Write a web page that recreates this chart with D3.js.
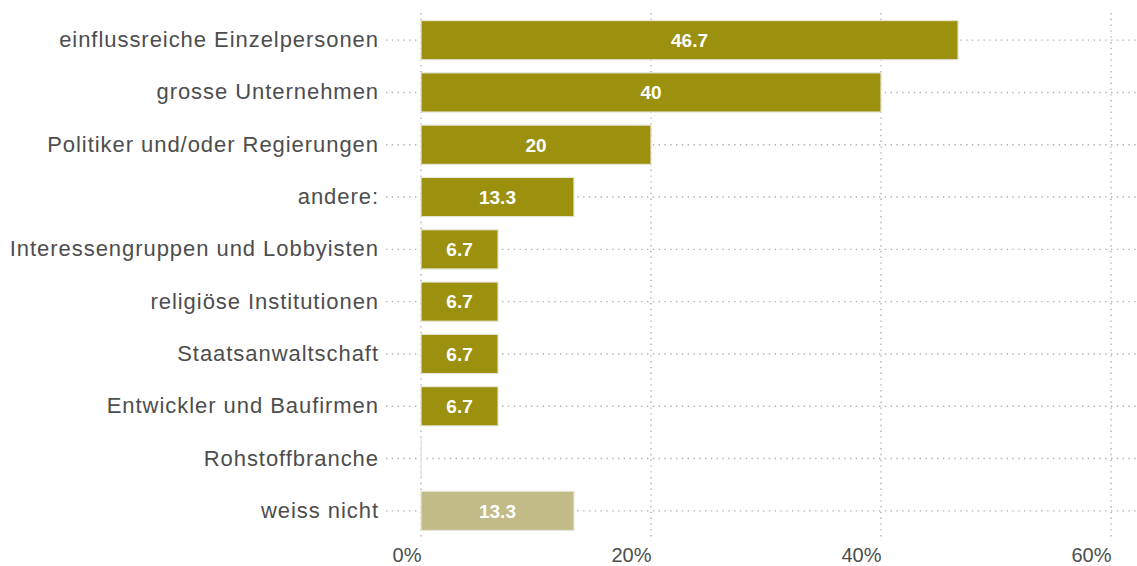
<!DOCTYPE html>
<html><head><meta charset="utf-8">
<script src="https://cdn.jsdelivr.net/npm/d3@7"></script>
<style>body{margin:0;background:#fff;}svg{display:block;font-family:"Liberation Sans",Arial,sans-serif;}</style>
</head><body>
<svg id="c" width="1137" height="566"></svg>
<script>
const categories = ["einflussreiche Einzelpersonen","grosse Unternehmen","Politiker und/oder Regierungen","andere:","Interessengruppen und Lobbyisten","religiöse Institutionen","Staatsanwaltschaft","Entwickler und Baufirmen","Rohstoffbranche","weiss nicht"];
const values = [46.7, 40, 20, 13.3, 6.7, 6.7, 6.7, 6.7, 0, 13.3];
const labels = ["46.7","40","20","13.3","6.7","6.7","6.7","6.7","","13.3"];
const groups = ["a","a","a","a","a","a","a","a","a","b"];
const ticks = [0, 20, 40, 60];

const svg = d3.select("#c");
const x = d3.scaleLinear().domain([0, 60]).range([421, 1111]);
const y = d3.scaleBand().domain(categories).range([14, 537]).paddingInner(0.25).paddingOuter(0.125);
const color = d3.scaleOrdinal().domain(["a","b"]).range(["#9c910e","#c0bb87"]);

// vertical grid
svg.append("g").selectAll("line").data(ticks).join("line")
  .attr("x1", d => x(d)).attr("x2", d => x(d)).attr("y1", 13).attr("y2", 541)
  .attr("stroke", "#b0b0b0").attr("stroke-width", 1.4).attr("stroke-dasharray", "1.4,4.4");
// horizontal grid
svg.append("g").selectAll("line").data(categories).join("line")
  .attr("x1", 386).attr("x2", 1137)
  .attr("y1", d => y(d) + y.bandwidth()/2).attr("y2", d => y(d) + y.bandwidth()/2)
  .attr("stroke", "#b0b0b0").attr("stroke-width", 1.4).attr("stroke-dasharray", "1.4,4.4");

// bars
svg.append("g").selectAll("rect").data(categories).join("rect")
  .attr("x", x(0)).attr("y", d => y(d))
  .attr("width", (d,i) => Math.max(0.5, x(values[i]) - x(0))).attr("height", y.bandwidth())
  .attr("fill", (d,i) => color(groups[i]))
  .attr("stroke", "#e6e6dc").attr("stroke-width", 1.2);

// value labels
svg.append("g").selectAll("text").data(categories).join("text")
  .attr("x", (d,i) => (x(values[i]) + x(0))/2)
  .attr("y", d => y(d) + y.bandwidth()/2)
  .attr("dy", "0.36em").attr("text-anchor", "middle")
  .attr("fill", "#fff").attr("font-weight", "bold").attr("font-size", 19)
  .text((d,i) => labels[i]);

// category labels
const ya = d3.axisLeft(y).tickSize(0).tickPadding(0);
const gy = svg.append("g").attr("transform", "translate(379,0)").call(ya);
gy.select(".domain").remove();
gy.selectAll("text").attr("font-size", 22).attr("letter-spacing", "0.95px").attr("fill", "#4d4d4d")
  .attr("font-family", "'Liberation Sans',Arial,sans-serif");

// x tick labels
const xa = d3.axisBottom(x).tickValues(ticks).tickFormat(d => d + "%").tickSize(0).tickPadding(0);
const gx = svg.append("g").attr("transform", "translate(0,548)").call(xa);
gx.select(".domain").remove();
gx.selectAll("text").attr("font-size", 20).attr("fill", "#4d4d4d").attr("text-anchor", "end")
  .attr("font-family", "'Liberation Sans',Arial,sans-serif");
</script>
</body></html>
